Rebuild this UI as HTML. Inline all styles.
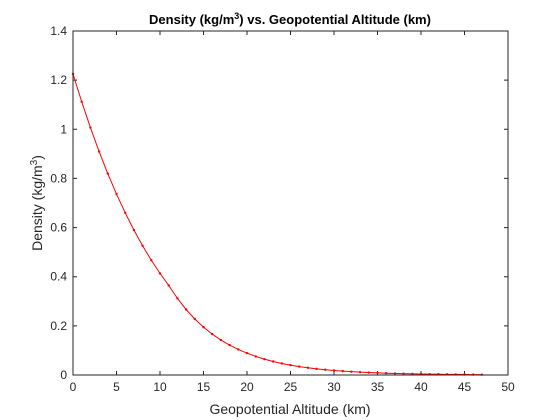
<!DOCTYPE html>
<html><head><meta charset="utf-8"><style>
body{margin:0;background:#fff;}
svg{display:block;font-family:"Liberation Sans",Arial,sans-serif;}
</style></head><body>
<svg id="chart" width="560" height="420">
<rect x="0" y="0" width="560" height="420" fill="#fff"/>
<rect x="73" y="31" width="435" height="344" fill="#fff" stroke="none"/>
<g id="grid"></g>
<path id="line" fill="none" stroke="#ff0000" stroke-width="1"/>
<g id="pts"></g>
<rect x="73" y="31" width="435" height="344" fill="none" stroke="#262626" stroke-width="1"/>
<text x="290" y="24" text-anchor="middle" font-size="13" font-weight="bold" fill="#000">Density (kg/m<tspan dy="-5" font-size="9">3</tspan><tspan dy="5">) vs. Geopotential Altitude (km)</tspan></text>
<text x="290" y="414" text-anchor="middle" font-size="14" fill="#262626">Geopotential Altitude (km)</text>
<text transform="translate(42,203) rotate(-90)" text-anchor="middle" font-size="14" fill="#262626">Density (kg/m<tspan dy="-5" font-size="10">3</tspan><tspan dy="5">)</tspan></text>
</svg>
<script>
const altitudes=[0,1,2,3,4,5,6,7,8,9,10,11,12,13,14,15,16,17,18,19,20,21,22,23,24,25,26,27,28,29,30,31,32,33,34,35,36,37,38,39,40,41,42,43,44,45,46,47];
const densities=[1.225,1.112,1.007,0.9093,0.8194,0.7364,0.6601,0.5900,0.5258,0.4671,0.4135,0.3648,0.3119,0.2666,0.2279,0.1948,0.1665,0.1423,0.1217,0.1040,0.08891,0.07572,0.06451,0.05500,0.04694,0.04008,0.03426,0.02930,0.02508,0.02148,0.01841,0.01579,0.01356,0.01163,0.00997,0.00856,0.00736,0.00634,0.00547,0.00473,0.00400,0.00347,0.00302,0.00263,0.00229,0.00200,0.00175,0.00143];
const xTicks=[0,5,10,15,20,25,30,35,40,45,50];
const yTicks=[0,0.2,0.4,0.6,0.8,1,1.2,1.4];
const xTickLabels=["0","5","10","15","20","25","30","35","40","45","50"];
const yTickLabels=["0","0.2","0.4","0.6","0.8","1","1.2","1.4"];
const X0=73,X1=508,Y0=375,Y1=31;
const sx=v=>X0+(v-0)/(50-0)*(X1-X0);
const sy=v=>Y0-(v-0)/(1.4-0)*(Y0-Y1);
const NS="http://www.w3.org/2000/svg";
const g=document.getElementById('grid');
xTicks.forEach((t,i)=>{
  const x=sx(t);
  const a=document.createElementNS(NS,'path');
  a.setAttribute('d',`M${x},${Y0}v-4M${x},${Y1}v4`);a.setAttribute('stroke','#262626');
  
  
  g.appendChild(a);
  const l=document.createElementNS(NS,'text');
  l.setAttribute('x',x);l.setAttribute('y',Y0+16);l.setAttribute('text-anchor','middle');l.setAttribute('font-size','12');l.setAttribute('fill','#262626');
  l.textContent=xTickLabels[i];
  
  
  g.appendChild(l);
});
yTicks.forEach((t,i)=>{
  const y=sy(t);
  const a=document.createElementNS(NS,'path');
  a.setAttribute('d',`M${X0},${y}h4M${X1},${y}h-4`);a.setAttribute('stroke','#262626');
  
  
  g.appendChild(a);
  const l=document.createElementNS(NS,'text');
  l.setAttribute('x',X0-6);l.setAttribute('y',y+4);l.setAttribute('text-anchor','end');l.setAttribute('font-size','12');l.setAttribute('fill','#262626');
  l.textContent=yTickLabels[i];
  
  
  g.appendChild(l);
});
document.getElementById('line').setAttribute('d',altitudes.map((a,i)=>(i?'L':'M')+sx(a)+','+sy(densities[i])).join(''));
const pg=document.getElementById('pts');
altitudes.forEach((a,i)=>{
  const c=document.createElementNS(NS,'circle');
  c.setAttribute('cx',sx(a));c.setAttribute('cy',sy(densities[i]));c.setAttribute('r','1.2');c.setAttribute('fill','#ff0000');
  
  
  pg.appendChild(c);
});
</script>
</body></html>
